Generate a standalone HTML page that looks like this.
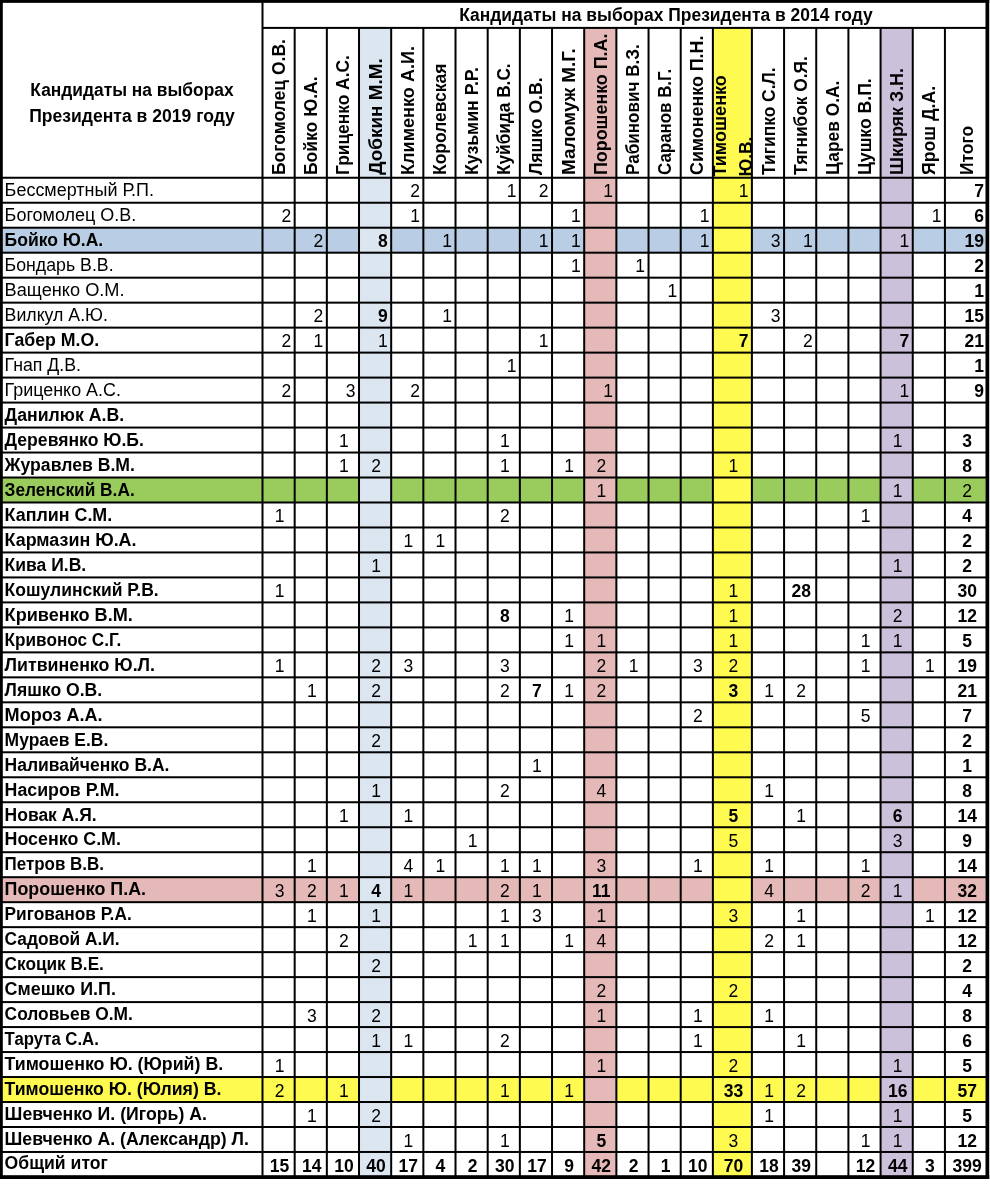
<!DOCTYPE html>
<html lang="ru"><head><meta charset="utf-8"><title>Кандидаты на выборах Президента</title>
<style>html,body{margin:0;padding:0;background:#fff}body{width:990px;height:1184px;overflow:hidden}svg{display:block}text{font-family:'Liberation Sans', 'DejaVu Sans', sans-serif;font-size:17.5px;fill:#000}.b{font-weight:700}.m{text-anchor:middle}.e{text-anchor:end}</style>
</head><body>
<svg width="990" height="1184" viewBox="0 0 990 1184">
<rect width="990" height="1184" fill="#fff"/>
<g id="rowfills">
<rect x="2" y="227.71" width="983.50" height="24.98" fill="#b9cde5"/>
<rect x="2" y="477.51" width="983.50" height="24.98" fill="#99cc5d"/>
<rect x="2" y="877.19" width="983.50" height="24.98" fill="#e5b9b7"/>
<rect x="2" y="1077.03" width="983.50" height="24.98" fill="#fffa50"/>
</g>
<g id="colfills">
<rect x="359.01" y="27.90" width="32.17" height="1149.05" fill="#dce6f1"/>
<rect x="584.20" y="27.90" width="32.17" height="1149.05" fill="#e5b9b7"/>
<rect x="712.88" y="27.90" width="39.02" height="1149.05" fill="#fffa50"/>
<rect x="880.58" y="27.90" width="32.17" height="1149.05" fill="#ccc1da"/>
</g>
<g id="grid" fill="#000">
<rect x="262.50" y="26.90" width="725.00" height="2.0"/>
<rect x="0" y="176.75" width="987.50" height="2.0"/>
<rect x="0" y="201.73" width="987.50" height="2.0"/>
<rect x="0" y="226.71" width="987.50" height="2.0"/>
<rect x="0" y="251.69" width="987.50" height="2.0"/>
<rect x="0" y="276.67" width="987.50" height="2.0"/>
<rect x="0" y="301.65" width="987.50" height="2.0"/>
<rect x="0" y="326.63" width="987.50" height="2.0"/>
<rect x="0" y="351.61" width="987.50" height="2.0"/>
<rect x="0" y="376.59" width="987.50" height="2.0"/>
<rect x="0" y="401.57" width="987.50" height="2.0"/>
<rect x="0" y="426.55" width="987.50" height="2.0"/>
<rect x="0" y="451.53" width="987.50" height="2.0"/>
<rect x="0" y="476.51" width="987.50" height="2.0"/>
<rect x="0" y="501.49" width="987.50" height="2.0"/>
<rect x="0" y="526.47" width="987.50" height="2.0"/>
<rect x="0" y="551.45" width="987.50" height="2.0"/>
<rect x="0" y="576.43" width="987.50" height="2.0"/>
<rect x="0" y="601.41" width="987.50" height="2.0"/>
<rect x="0" y="626.39" width="987.50" height="2.0"/>
<rect x="0" y="651.37" width="987.50" height="2.0"/>
<rect x="0" y="676.35" width="987.50" height="2.0"/>
<rect x="0" y="701.33" width="987.50" height="2.0"/>
<rect x="0" y="726.31" width="987.50" height="2.0"/>
<rect x="0" y="751.29" width="987.50" height="2.0"/>
<rect x="0" y="776.27" width="987.50" height="2.0"/>
<rect x="0" y="801.25" width="987.50" height="2.0"/>
<rect x="0" y="826.23" width="987.50" height="2.0"/>
<rect x="0" y="851.21" width="987.50" height="2.0"/>
<rect x="0" y="876.19" width="987.50" height="2.0"/>
<rect x="0" y="901.17" width="987.50" height="2.0"/>
<rect x="0" y="926.15" width="987.50" height="2.0"/>
<rect x="0" y="951.13" width="987.50" height="2.0"/>
<rect x="0" y="976.11" width="987.50" height="2.0"/>
<rect x="0" y="1001.09" width="987.50" height="2.0"/>
<rect x="0" y="1026.07" width="987.50" height="2.0"/>
<rect x="0" y="1051.05" width="987.50" height="2.0"/>
<rect x="0" y="1076.03" width="987.50" height="2.0"/>
<rect x="0" y="1101.01" width="987.50" height="2.0"/>
<rect x="0" y="1125.99" width="987.50" height="2.0"/>
<rect x="0" y="1150.97" width="987.50" height="2.0"/>
<rect x="261.50" y="0.00" width="2.0" height="1176.95"/>
<rect x="293.67" y="27.90" width="2.0" height="1149.05"/>
<rect x="325.84" y="27.90" width="2.0" height="1149.05"/>
<rect x="358.01" y="27.90" width="2.0" height="1149.05"/>
<rect x="390.18" y="27.90" width="2.0" height="1149.05"/>
<rect x="422.35" y="27.90" width="2.0" height="1149.05"/>
<rect x="454.52" y="27.90" width="2.0" height="1149.05"/>
<rect x="486.69" y="27.90" width="2.0" height="1149.05"/>
<rect x="518.86" y="27.90" width="2.0" height="1149.05"/>
<rect x="551.03" y="27.90" width="2.0" height="1149.05"/>
<rect x="583.20" y="27.90" width="2.0" height="1149.05"/>
<rect x="615.37" y="27.90" width="2.0" height="1149.05"/>
<rect x="647.54" y="27.90" width="2.0" height="1149.05"/>
<rect x="679.71" y="27.90" width="2.0" height="1149.05"/>
<rect x="711.88" y="27.90" width="2.0" height="1149.05"/>
<rect x="750.90" y="27.90" width="2.0" height="1149.05"/>
<rect x="783.07" y="27.90" width="2.0" height="1149.05"/>
<rect x="815.24" y="27.90" width="2.0" height="1149.05"/>
<rect x="847.41" y="27.90" width="2.0" height="1149.05"/>
<rect x="879.58" y="27.90" width="2.0" height="1149.05"/>
<rect x="911.75" y="27.90" width="2.0" height="1149.05"/>
<rect x="943.92" y="27.90" width="2.0" height="1149.05"/>
<rect x="0" y="0" width="989.20" height="2.85"/>
<rect x="0" y="0" width="2.8" height="1178.85"/>
<rect x="985.5" y="0" width="3.7" height="1178.85"/>
<rect x="0" y="1175.20" width="989.20" height="3.8"/>
</g>
<g id="head" class="b" style="filter:grayscale(1)">
<text x="459.2" y="21.4" textLength="413.5" lengthAdjust="spacingAndGlyphs">Кандидаты на выборах Президента в 2014 году</text>
<text class="m" x="132.0" y="96.3" textLength="203.3" lengthAdjust="spacingAndGlyphs">Кандидаты на выборах</text>
<text class="m" x="132.0" y="121.6" textLength="205.7" lengthAdjust="spacingAndGlyphs">Президента в 2019 году</text>
<text transform="translate(285.1,175) rotate(-90)" textLength="135.9" lengthAdjust="spacingAndGlyphs">Богомолец О.В.</text>
<text transform="translate(317.3,175) rotate(-90)" textLength="98.6" lengthAdjust="spacingAndGlyphs">Бойко Ю.А.</text>
<text transform="translate(349.4,175) rotate(-90)" textLength="119.8" lengthAdjust="spacingAndGlyphs">Гриценко А.С.</text>
<text transform="translate(381.6,175) rotate(-90)" textLength="116.8" lengthAdjust="spacingAndGlyphs">Добкин М.М.</text>
<text transform="translate(413.8,175) rotate(-90)" textLength="129.0" lengthAdjust="spacingAndGlyphs">Клименко А.И.</text>
<text transform="translate(445.9,175) rotate(-90)" textLength="111.5" lengthAdjust="spacingAndGlyphs">Королевская</text>
<text transform="translate(478.1,175) rotate(-90)" textLength="107.9" lengthAdjust="spacingAndGlyphs">Кузьмин Р.Р.</text>
<text transform="translate(510.3,175) rotate(-90)" textLength="111.6" lengthAdjust="spacingAndGlyphs">Куйбида В.С.</text>
<text transform="translate(542.4,175) rotate(-90)" textLength="97.6" lengthAdjust="spacingAndGlyphs">Ляшко О.В.</text>
<text transform="translate(574.6,175) rotate(-90)" textLength="126.8" lengthAdjust="spacingAndGlyphs">Маломуж М.Г.</text>
<text transform="translate(606.8,175) rotate(-90)" textLength="141.4" lengthAdjust="spacingAndGlyphs">Порошенко П.А.</text>
<text transform="translate(639.0,175) rotate(-90)" textLength="130.8" lengthAdjust="spacingAndGlyphs">Рабинович В.З.</text>
<text transform="translate(671.1,175) rotate(-90)" textLength="106.2" lengthAdjust="spacingAndGlyphs">Саранов В.Г.</text>
<text transform="translate(703.3,175) rotate(-90)" textLength="139.4" lengthAdjust="spacingAndGlyphs">Симоненко П.Н.</text>
<text transform="translate(726.0,176.6) rotate(-90)" textLength="101.5" lengthAdjust="spacingAndGlyphs">Тимошенко</text>
<text transform="translate(752.0,176.6) rotate(-90)" textLength="39.8" lengthAdjust="spacingAndGlyphs">Ю.В.</text>
<text transform="translate(774.5,175) rotate(-90)" textLength="107.6" lengthAdjust="spacingAndGlyphs">Тигипко С.Л.</text>
<text transform="translate(806.7,175) rotate(-90)" textLength="118.8" lengthAdjust="spacingAndGlyphs">Тягнибок О.Я.</text>
<text transform="translate(838.8,175) rotate(-90)" textLength="94.3" lengthAdjust="spacingAndGlyphs">Царев О.А.</text>
<text transform="translate(871.0,175) rotate(-90)" textLength="96.7" lengthAdjust="spacingAndGlyphs">Цушко В.П.</text>
<text transform="translate(903.2,175) rotate(-90)" textLength="107.0" lengthAdjust="spacingAndGlyphs">Шкиряк З.Н.</text>
<text transform="translate(935.3,175) rotate(-90)" textLength="89.2" lengthAdjust="spacingAndGlyphs">Ярош Д.А.</text>
<text transform="translate(972.5,175) rotate(-90)" textLength="49.1" lengthAdjust="spacingAndGlyphs">Итого</text>
</g>
<g id="body" style="filter:grayscale(1)">
<text x="4.6" y="195.9" textLength="149.4" lengthAdjust="spacingAndGlyphs">Бессмертный Р.П.</text>
<text class="e" x="419.9" y="196.8">2</text>
<text class="e" x="516.4" y="196.8">1</text>
<text class="e" x="548.5" y="196.8">2</text>
<text class="e" x="612.9" y="196.8">1</text>
<text class="e" x="748.4" y="196.8">1</text>
<text class="e b" x="984.0" y="196.8">7</text>
<text x="4.6" y="220.9" textLength="131.6" lengthAdjust="spacingAndGlyphs">Богомолец О.В.</text>
<text class="e" x="291.2" y="221.7">2</text>
<text class="e" x="419.9" y="221.7">1</text>
<text class="e" x="580.7" y="221.7">1</text>
<text class="e" x="709.4" y="221.7">1</text>
<text class="e" x="941.4" y="221.7">1</text>
<text class="e b" x="984.0" y="221.7">6</text>
<text class="b" x="4.6" y="245.9" textLength="98.6" lengthAdjust="spacingAndGlyphs">Бойко Ю.А.</text>
<text class="e" x="323.3" y="246.7">2</text>
<text class="e b" x="387.7" y="246.7">8</text>
<text class="e" x="452.0" y="246.7">1</text>
<text class="e" x="548.5" y="246.7">1</text>
<text class="e" x="580.7" y="246.7">1</text>
<text class="e" x="709.4" y="246.7">1</text>
<text class="e" x="780.6" y="246.7">3</text>
<text class="e" x="812.7" y="246.7">1</text>
<text class="e" x="909.2" y="246.7">1</text>
<text class="e b" x="984.0" y="246.7">19</text>
<text x="4.6" y="270.9" textLength="109.0" lengthAdjust="spacingAndGlyphs">Бондарь В.В.</text>
<text class="e" x="580.7" y="271.7">1</text>
<text class="e" x="645.0" y="271.7">1</text>
<text class="e b" x="984.0" y="271.7">2</text>
<text x="4.6" y="295.9" textLength="120.0" lengthAdjust="spacingAndGlyphs">Ващенко О.М.</text>
<text class="e" x="677.2" y="296.7">1</text>
<text class="e b" x="984.0" y="296.7">1</text>
<text x="4.6" y="320.8" textLength="103.3" lengthAdjust="spacingAndGlyphs">Вилкул А.Ю.</text>
<text class="e" x="323.3" y="321.6">2</text>
<text class="e b" x="387.7" y="321.6">9</text>
<text class="e" x="452.0" y="321.6">1</text>
<text class="e" x="780.6" y="321.6">3</text>
<text class="e b" x="984.0" y="321.6">15</text>
<text class="b" x="4.6" y="345.8" textLength="94.6" lengthAdjust="spacingAndGlyphs">Габер М.О.</text>
<text class="e" x="291.2" y="346.6">2</text>
<text class="e" x="323.3" y="346.6">1</text>
<text class="e" x="387.7" y="346.6">1</text>
<text class="e" x="548.5" y="346.6">1</text>
<text class="e b" x="748.4" y="346.6">7</text>
<text class="e" x="812.7" y="346.6">2</text>
<text class="e b" x="909.2" y="346.6">7</text>
<text class="e b" x="984.0" y="346.6">21</text>
<text x="4.6" y="370.8" textLength="76.3" lengthAdjust="spacingAndGlyphs">Гнап Д.В.</text>
<text class="e" x="516.4" y="371.6">1</text>
<text class="e b" x="984.0" y="371.6">1</text>
<text x="4.6" y="395.8" textLength="116.3" lengthAdjust="spacingAndGlyphs">Гриценко А.С.</text>
<text class="e" x="291.2" y="396.6">2</text>
<text class="e" x="355.5" y="396.6">3</text>
<text class="e" x="419.9" y="396.6">2</text>
<text class="e" x="612.9" y="396.6">1</text>
<text class="e" x="909.2" y="396.6">1</text>
<text class="e b" x="984.0" y="396.6">9</text>
<text class="b" x="4.6" y="420.8" textLength="119.5" lengthAdjust="spacingAndGlyphs">Данилюк А.В.</text>
<text class="b" x="4.6" y="445.8" textLength="139.3" lengthAdjust="spacingAndGlyphs">Деревянко Ю.Б.</text>
<text class="m" x="343.9" y="447.1">1</text>
<text class="m" x="504.8" y="447.1">1</text>
<text class="m" x="897.7" y="447.1">1</text>
<text class="m b" x="967.2" y="447.1">3</text>
<text class="b" x="4.6" y="470.7" textLength="130.3" lengthAdjust="spacingAndGlyphs">Журавлев В.М.</text>
<text class="m" x="343.9" y="472.0">1</text>
<text class="m" x="376.1" y="472.0">2</text>
<text class="m" x="504.8" y="472.0">1</text>
<text class="m" x="569.1" y="472.0">1</text>
<text class="m" x="601.3" y="472.0">2</text>
<text class="m" x="733.4" y="472.0">1</text>
<text class="m b" x="967.2" y="472.0">8</text>
<text class="b" x="4.6" y="495.7" textLength="130.1" lengthAdjust="spacingAndGlyphs">Зеленский В.А.</text>
<text class="m" x="601.3" y="497.0">1</text>
<text class="m" x="897.7" y="497.0">1</text>
<text class="m" x="967.2" y="497.0">2</text>
<text class="b" x="4.6" y="520.7" textLength="107.6" lengthAdjust="spacingAndGlyphs">Каплин С.М.</text>
<text class="m" x="279.6" y="522.0">1</text>
<text class="m" x="504.8" y="522.0">2</text>
<text class="m" x="865.5" y="522.0">1</text>
<text class="m b" x="967.2" y="522.0">4</text>
<text class="b" x="4.6" y="545.7" textLength="131.9" lengthAdjust="spacingAndGlyphs">Кармазин Ю.А.</text>
<text class="m" x="408.3" y="547.0">1</text>
<text class="m" x="440.4" y="547.0">1</text>
<text class="m b" x="967.2" y="547.0">2</text>
<text class="b" x="4.6" y="570.7" textLength="81.6" lengthAdjust="spacingAndGlyphs">Кива И.В.</text>
<text class="m" x="376.1" y="572.0">1</text>
<text class="m" x="897.7" y="572.0">1</text>
<text class="m b" x="967.2" y="572.0">2</text>
<text class="b" x="4.6" y="595.6" textLength="154.1" lengthAdjust="spacingAndGlyphs">Кошулинский Р.В.</text>
<text class="m" x="279.6" y="596.9">1</text>
<text class="m" x="733.4" y="596.9">1</text>
<text class="m b" x="801.2" y="596.9">28</text>
<text class="m b" x="967.2" y="596.9">30</text>
<text class="b" x="4.6" y="620.6" textLength="128.2" lengthAdjust="spacingAndGlyphs">Кривенко В.М.</text>
<text class="m b" x="504.8" y="621.9">8</text>
<text class="m" x="569.1" y="621.9">1</text>
<text class="m" x="733.4" y="621.9">1</text>
<text class="m" x="897.7" y="621.9">2</text>
<text class="m b" x="967.2" y="621.9">12</text>
<text class="b" x="4.6" y="645.6" textLength="116.8" lengthAdjust="spacingAndGlyphs">Кривонос С.Г.</text>
<text class="m" x="569.1" y="646.9">1</text>
<text class="m" x="601.3" y="646.9">1</text>
<text class="m" x="733.4" y="646.9">1</text>
<text class="m" x="865.5" y="646.9">1</text>
<text class="m" x="897.7" y="646.9">1</text>
<text class="m b" x="967.2" y="646.9">5</text>
<text class="b" x="4.6" y="670.6" textLength="150.4" lengthAdjust="spacingAndGlyphs">Литвиненко Ю.Л.</text>
<text class="m" x="279.6" y="671.9">1</text>
<text class="m" x="376.1" y="671.9">2</text>
<text class="m" x="408.3" y="671.9">3</text>
<text class="m" x="504.8" y="671.9">3</text>
<text class="m" x="601.3" y="671.9">2</text>
<text class="m" x="633.5" y="671.9">1</text>
<text class="m" x="697.8" y="671.9">3</text>
<text class="m" x="733.4" y="671.9">2</text>
<text class="m" x="865.5" y="671.9">1</text>
<text class="m" x="929.8" y="671.9">1</text>
<text class="m b" x="967.2" y="671.9">19</text>
<text class="b" x="4.6" y="695.6" textLength="97.6" lengthAdjust="spacingAndGlyphs">Ляшко О.В.</text>
<text class="m" x="311.8" y="696.9">1</text>
<text class="m" x="376.1" y="696.9">2</text>
<text class="m" x="504.8" y="696.9">2</text>
<text class="m b" x="536.9" y="696.9">7</text>
<text class="m" x="569.1" y="696.9">1</text>
<text class="m" x="601.3" y="696.9">2</text>
<text class="m b" x="733.4" y="696.9">3</text>
<text class="m" x="769.0" y="696.9">1</text>
<text class="m" x="801.2" y="696.9">2</text>
<text class="m b" x="967.2" y="696.9">21</text>
<text class="b" x="4.6" y="720.5" textLength="98.0" lengthAdjust="spacingAndGlyphs">Мороз А.А.</text>
<text class="m" x="697.8" y="721.8">2</text>
<text class="m" x="865.5" y="721.8">5</text>
<text class="m b" x="967.2" y="721.8">7</text>
<text class="b" x="4.6" y="745.5" textLength="103.7" lengthAdjust="spacingAndGlyphs">Мураев Е.В.</text>
<text class="m" x="376.1" y="746.8">2</text>
<text class="m b" x="967.2" y="746.8">2</text>
<text class="b" x="4.6" y="770.5" textLength="164.8" lengthAdjust="spacingAndGlyphs">Наливайченко В.А.</text>
<text class="m" x="536.9" y="771.8">1</text>
<text class="m b" x="967.2" y="771.8">1</text>
<text class="b" x="4.6" y="795.5" textLength="114.9" lengthAdjust="spacingAndGlyphs">Насиров Р.М.</text>
<text class="m" x="376.1" y="796.8">1</text>
<text class="m" x="504.8" y="796.8">2</text>
<text class="m" x="601.3" y="796.8">4</text>
<text class="m" x="769.0" y="796.8">1</text>
<text class="m b" x="967.2" y="796.8">8</text>
<text class="b" x="4.6" y="820.5" textLength="92.0" lengthAdjust="spacingAndGlyphs">Новак А.Я.</text>
<text class="m" x="343.9" y="821.8">1</text>
<text class="m" x="408.3" y="821.8">1</text>
<text class="m b" x="733.4" y="821.8">5</text>
<text class="m" x="801.2" y="821.8">1</text>
<text class="m b" x="897.7" y="821.8">6</text>
<text class="m b" x="967.2" y="821.8">14</text>
<text class="b" x="4.6" y="845.4" textLength="116.3" lengthAdjust="spacingAndGlyphs">Носенко С.М.</text>
<text class="m" x="472.6" y="846.7">1</text>
<text class="m" x="733.4" y="846.7">5</text>
<text class="m" x="897.7" y="846.7">3</text>
<text class="m b" x="967.2" y="846.7">9</text>
<text class="b" x="4.6" y="870.4" textLength="99.4" lengthAdjust="spacingAndGlyphs">Петров В.В.</text>
<text class="m" x="311.8" y="871.7">1</text>
<text class="m" x="408.3" y="871.7">4</text>
<text class="m" x="440.4" y="871.7">1</text>
<text class="m" x="504.8" y="871.7">1</text>
<text class="m" x="536.9" y="871.7">1</text>
<text class="m" x="601.3" y="871.7">3</text>
<text class="m" x="697.8" y="871.7">1</text>
<text class="m" x="769.0" y="871.7">1</text>
<text class="m" x="865.5" y="871.7">1</text>
<text class="m b" x="967.2" y="871.7">14</text>
<text class="b" x="4.6" y="895.4" textLength="141.4" lengthAdjust="spacingAndGlyphs">Порошенко П.А.</text>
<text class="m" x="279.6" y="896.7">3</text>
<text class="m" x="311.8" y="896.7">2</text>
<text class="m" x="343.9" y="896.7">1</text>
<text class="m b" x="376.1" y="896.7">4</text>
<text class="m" x="408.3" y="896.7">1</text>
<text class="m" x="504.8" y="896.7">2</text>
<text class="m" x="536.9" y="896.7">1</text>
<text class="m b" x="601.3" y="896.7">11</text>
<text class="m" x="769.0" y="896.7">4</text>
<text class="m" x="865.5" y="896.7">2</text>
<text class="m" x="897.7" y="896.7">1</text>
<text class="m b" x="967.2" y="896.7">32</text>
<text class="b" x="4.6" y="920.4" textLength="127.1" lengthAdjust="spacingAndGlyphs">Ригованов Р.А.</text>
<text class="m" x="311.8" y="921.7">1</text>
<text class="m" x="376.1" y="921.7">1</text>
<text class="m" x="504.8" y="921.7">1</text>
<text class="m" x="536.9" y="921.7">3</text>
<text class="m" x="601.3" y="921.7">1</text>
<text class="m" x="733.4" y="921.7">3</text>
<text class="m" x="801.2" y="921.7">1</text>
<text class="m" x="929.8" y="921.7">1</text>
<text class="m b" x="967.2" y="921.7">12</text>
<text class="b" x="4.6" y="945.4" textLength="115.0" lengthAdjust="spacingAndGlyphs">Садовой А.И.</text>
<text class="m" x="343.9" y="946.6">2</text>
<text class="m" x="472.6" y="946.6">1</text>
<text class="m" x="504.8" y="946.6">1</text>
<text class="m" x="569.1" y="946.6">1</text>
<text class="m" x="601.3" y="946.6">4</text>
<text class="m" x="769.0" y="946.6">2</text>
<text class="m" x="801.2" y="946.6">1</text>
<text class="m b" x="967.2" y="946.6">12</text>
<text class="b" x="4.6" y="970.3" textLength="99.3" lengthAdjust="spacingAndGlyphs">Скоцик В.Е.</text>
<text class="m" x="376.1" y="971.6">2</text>
<text class="m b" x="967.2" y="971.6">2</text>
<text class="b" x="4.6" y="995.3" textLength="111.3" lengthAdjust="spacingAndGlyphs">Смешко И.П.</text>
<text class="m" x="601.3" y="996.6">2</text>
<text class="m" x="733.4" y="996.6">2</text>
<text class="m b" x="967.2" y="996.6">4</text>
<text class="b" x="4.6" y="1020.3" textLength="128.2" lengthAdjust="spacingAndGlyphs">Соловьев О.М.</text>
<text class="m" x="311.8" y="1021.6">3</text>
<text class="m" x="376.1" y="1021.6">2</text>
<text class="m" x="601.3" y="1021.6">1</text>
<text class="m" x="697.8" y="1021.6">1</text>
<text class="m" x="769.0" y="1021.6">1</text>
<text class="m b" x="967.2" y="1021.6">8</text>
<text class="b" x="4.6" y="1045.3" textLength="94.2" lengthAdjust="spacingAndGlyphs">Тарута С.А.</text>
<text class="m" x="376.1" y="1046.6">1</text>
<text class="m" x="408.3" y="1046.6">1</text>
<text class="m" x="504.8" y="1046.6">2</text>
<text class="m" x="697.8" y="1046.6">1</text>
<text class="m" x="801.2" y="1046.6">1</text>
<text class="m b" x="967.2" y="1046.6">6</text>
<text class="b" x="4.6" y="1070.3" textLength="218.6" lengthAdjust="spacingAndGlyphs">Тимошенко Ю. (Юрий) В.</text>
<text class="m" x="279.6" y="1071.6">1</text>
<text class="m" x="601.3" y="1071.6">1</text>
<text class="m" x="733.4" y="1071.6">2</text>
<text class="m" x="897.7" y="1071.6">1</text>
<text class="m b" x="967.2" y="1071.6">5</text>
<text class="b" x="4.6" y="1095.2" textLength="216.8" lengthAdjust="spacingAndGlyphs">Тимошенко Ю. (Юлия) В.</text>
<text class="m" x="279.6" y="1096.5">2</text>
<text class="m" x="343.9" y="1096.5">1</text>
<text class="m" x="504.8" y="1096.5">1</text>
<text class="m" x="569.1" y="1096.5">1</text>
<text class="m b" x="733.4" y="1096.5">33</text>
<text class="m" x="769.0" y="1096.5">1</text>
<text class="m" x="801.2" y="1096.5">2</text>
<text class="m b" x="897.7" y="1096.5">16</text>
<text class="m b" x="967.2" y="1096.5">57</text>
<text class="b" x="4.6" y="1120.2" textLength="202.3" lengthAdjust="spacingAndGlyphs">Шевченко И. (Игорь) А.</text>
<text class="m" x="311.8" y="1121.5">1</text>
<text class="m" x="376.1" y="1121.5">2</text>
<text class="m" x="769.0" y="1121.5">1</text>
<text class="m" x="897.7" y="1121.5">1</text>
<text class="m b" x="967.2" y="1121.5">5</text>
<text class="b" x="4.6" y="1145.2" textLength="244.3" lengthAdjust="spacingAndGlyphs">Шевченко А. (Александр) Л.</text>
<text class="m" x="408.3" y="1146.5">1</text>
<text class="m" x="504.8" y="1146.5">1</text>
<text class="m b" x="601.3" y="1146.5">5</text>
<text class="m" x="733.4" y="1146.5">3</text>
<text class="m" x="865.5" y="1146.5">1</text>
<text class="m" x="897.7" y="1146.5">1</text>
<text class="m b" x="967.2" y="1146.5">12</text>
<text class="b" x="4.6" y="1169.0" textLength="103.3" lengthAdjust="spacingAndGlyphs">Общий итог</text>
<text class="m b" x="279.6" y="1171.5">15</text>
<text class="m b" x="311.8" y="1171.5">14</text>
<text class="m b" x="343.9" y="1171.5">10</text>
<text class="m b" x="376.1" y="1171.5">40</text>
<text class="m b" x="408.3" y="1171.5">17</text>
<text class="m b" x="440.4" y="1171.5">4</text>
<text class="m b" x="472.6" y="1171.5">2</text>
<text class="m b" x="504.8" y="1171.5">30</text>
<text class="m b" x="536.9" y="1171.5">17</text>
<text class="m b" x="569.1" y="1171.5">9</text>
<text class="m b" x="601.3" y="1171.5">42</text>
<text class="m b" x="633.5" y="1171.5">2</text>
<text class="m b" x="665.6" y="1171.5">1</text>
<text class="m b" x="697.8" y="1171.5">10</text>
<text class="m b" x="733.4" y="1171.5">70</text>
<text class="m b" x="769.0" y="1171.5">18</text>
<text class="m b" x="801.2" y="1171.5">39</text>
<text class="m b" x="865.5" y="1171.5">12</text>
<text class="m b" x="897.7" y="1171.5">44</text>
<text class="m b" x="929.8" y="1171.5">3</text>
<text class="m b" x="967.2" y="1171.5">399</text>
</g>
</svg></body></html>
